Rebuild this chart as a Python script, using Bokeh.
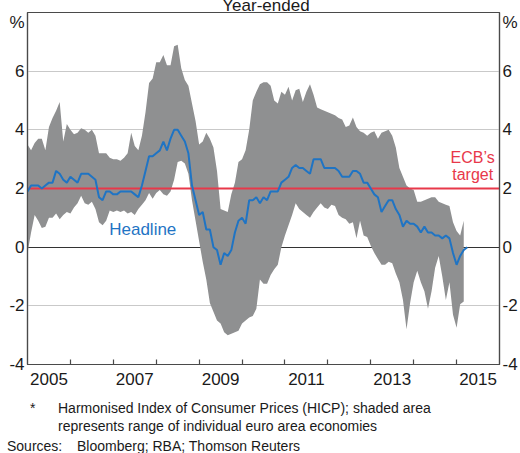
from bokeh.plotting import figure
from bokeh.models import FixedTicker, LinearAxis, Range1d, Label, Div
from bokeh.layouts import column
from bokeh.embed import file_html
from bokeh.resources import INLINE

# ---------------- data (monthly, from Jan 2005) ----------------
START_YEAR = 2005
headline = [
    1.9, 2.1, 2.1, 2.1, 2.0, 2.1, 2.2, 2.2, 2.6, 2.5, 2.3, 2.2,      # 2005
    2.4, 2.3, 2.2, 2.5, 2.5, 2.5, 2.4, 2.3, 1.7, 1.6, 1.9, 1.9,      # 2006
    1.8, 1.8, 1.9, 1.9, 1.9, 1.9, 1.8, 1.7, 2.1, 2.6, 3.1, 3.1,      # 2007
    3.2, 3.3, 3.6, 3.3, 3.7, 4.0, 4.0, 3.8, 3.6, 3.2, 2.1, 1.6,      # 2008
    1.1, 1.2, 0.6, 0.6, 0.0, -0.1, -0.6, -0.2, -0.3, -0.1, 0.5, 0.9, # 2009
    1.0, 0.8, 1.6, 1.6, 1.7, 1.5, 1.7, 1.6, 1.9, 1.9, 1.9, 2.2,      # 2010
    2.3, 2.4, 2.7, 2.8, 2.7, 2.7, 2.6, 2.5, 3.0, 3.0, 3.0, 2.7,      # 2011
    2.7, 2.7, 2.7, 2.6, 2.4, 2.4, 2.4, 2.6, 2.6, 2.5, 2.2, 2.2,      # 2012
    2.0, 1.8, 1.7, 1.2, 1.4, 1.6, 1.6, 1.3, 1.1, 0.7, 0.9, 0.8,      # 2013
    0.8, 0.7, 0.5, 0.7, 0.5, 0.5, 0.4, 0.4, 0.3, 0.4, 0.3, -0.2,     # 2014
    -0.6, -0.3, -0.1, 0.0,                                           # 2015
]
range_high = [
    3.5, 3.3, 3.55, 3.7, 3.7, 3.3, 4.1, 4.4, 4.65, 4.95, 3.6, 4.2,
    4.0, 3.85, 3.9, 4.05, 4.0, 3.9, 4.0, 3.8, 3.2, 3.2, 3.2, 3.05,
    3.0, 3.0, 2.95, 3.05, 3.2, 3.9, 3.45, 3.3, 3.8, 4.6, 5.6, 5.75,
    6.3, 6.3, 6.55, 6.2, 6.2, 6.85, 6.9, 6.1, 5.7, 5.5, 4.9, 4.3,
    3.5, 3.6, 3.9, 3.7, 3.4, 2.6, 1.3, 1.25, 1.2, 1.8, 2.2, 2.9,
    3.0, 3.3, 4.0, 5.0, 5.3, 5.55, 5.62, 5.62, 5.5, 5.0, 4.9, 5.3,
    5.2, 5.47, 5.0, 5.35, 5.4, 4.95, 5.3, 5.55, 5.2, 4.76, 4.7, 4.65,
    4.6, 4.55, 4.5, 4.4, 4.35, 4.1, 4.15, 4.42, 4.1, 3.95, 3.9, 3.8,
    3.9, 3.95, 3.7, 3.9, 3.95, 4.0, 3.8, 3.4, 2.7, 2.4, 2.1, 2.0,
    1.95, 1.55, 1.55, 1.6, 1.65, 1.7, 1.7, 1.55, 1.5, 1.45, 1.4, 0.85,
    0.55, 0.4, 0.9,
]
range_low = [
    -0.2, 0.5, 1.1, 0.9, 0.65, 0.7, 1.0, 1.0, 1.15, 0.95, 1.1, 1.2,
    1.15, 1.35, 1.5, 1.75, 1.5, 1.45, 1.55, 1.3, 0.85, 0.75, 0.9, 1.25,
    1.2, 1.25, 1.2, 1.25, 1.15, 1.2, 1.1, 1.3, 1.45, 1.6, 1.85, 1.65,
    1.85, 1.95, 1.8, 1.75, 1.9, 2.3, 2.9, 2.95, 2.85, 2.5, 1.6, 0.9,
    0.2, -0.5, -1.1, -1.9, -2.2, -2.5, -2.6, -2.9, -3.0, -2.95, -2.9, -2.85,
    -2.6, -2.5, -2.4, -2.35, -2.1, -1.1, -1.25, -1.25, -0.95, -0.75, -0.6, 0.0,
    0.4, 0.75, 1.1, 1.5, 1.3, 1.2, 1.1, 1.0, 1.2, 1.35, 1.5, 1.35,
    1.3, 1.45, 1.4, 1.1, 1.0, 0.95, 0.8, 0.85, 0.3, 0.9, 0.4, 0.35,
    0.05, -0.2, -0.4, -0.6, -0.6, -0.5, -0.55, -0.9, -1.2, -1.8, -2.8, -1.9,
    -1.2, -0.8, -1.2, -1.5, -2.1, -1.5, -0.7, -0.3, -1.0, -1.8, -1.2, -2.3,
    -2.75, -1.95, -1.85,
]
ECB_TARGET = 2.0
y_ticks = [-4, -2, 0, 2, 4, 6]
y_tick_labels = ["-4", "-2", "0", "2", "4", "6"]
y_grid = [-2, 2, 4, 6]
year_labels = ["2005", "2007", "2009", "2011", "2013", "2015"]
year_starts = list(range(2006, 2016))

x_head = [START_YEAR + i / 12 for i in range(len(headline))]
x_rng = [START_YEAR + i / 12 for i in range(len(range_high))]

# ---------------- style / layout ----------------
FONT = "Liberation Sans"
GREY_AREA = "#8f9091"
BLUE = "#1f74c4"
RED = "#e8384a"
AXIS = "#4a4a4a"
TXT = "#1a1a1a"

W, H = 520, 395
FL, FT, FW, FH = 27, 12, 475, 352      # frame in canvas px (canvas at page 0,0)
X0, X1, Y0, Y1 = 2005, 2016, -4, 8

def dx(px):
    return X0 + (px - FL) * (X1 - X0) / FW

def dy(py):
    return Y1 - (py - FT) * (Y1 - Y0) / FH

p = figure(width=W, height=H, x_range=Range1d(X0, X1), y_range=Range1d(Y0, Y1),
           output_backend="svg", toolbar_location=None,
           min_border_left=FL, min_border_right=W - FL - FW,
           min_border_top=FT, min_border_bottom=H - FT - FH)
p.outline_line_color = AXIS
p.outline_line_width = 1.2
p.background_fill_color = "white"
p.border_fill_color = "white"

pct_pos = dy(22)
yt = FixedTicker(ticks=y_ticks + [pct_pos])
ov = {t: s for t, s in zip(y_ticks, y_tick_labels)}
ov[pct_pos] = "%"

def style_y(ax, standoff):
    ax.ticker = yt
    ax.major_label_overrides = ov
    ax.major_tick_in = 0
    ax.major_tick_out = 0
    ax.minor_tick_in = 0
    ax.minor_tick_out = 0
    ax.axis_label_standoff = 0
    ax.axis_line_color = AXIS
    ax.axis_line_width = 1.2
    ax.major_label_text_font = FONT
    ax.major_label_text_font_size = "17px"
    ax.major_label_text_color = TXT
    ax.major_label_standoff = standoff

style_y(p.yaxis[0], 3)
ra = LinearAxis()
style_y(ra, 3)
p.add_layout(ra, "right")

xa = p.xaxis[0]
mid = [int(y) + 0.5 for y in year_labels]
xa.ticker = FixedTicker(ticks=mid, minor_ticks=year_starts)
xa.major_label_overrides = {m: lab for m, lab in zip(mid, year_labels)}
xa.major_tick_in = 0
xa.major_tick_out = 0
xa.minor_tick_in = 5
xa.minor_tick_out = 0
xa.axis_label_standoff = 0
xa.minor_tick_line_color = AXIS
xa.minor_tick_line_width = 1.2
xa.axis_line_color = AXIS
xa.axis_line_width = 1.2
xa.major_label_text_font = FONT
xa.major_label_text_font_size = "17px"
xa.major_label_text_color = TXT
xa.major_label_standoff = 8

p.xgrid.visible = False
p.ygrid.ticker = FixedTicker(ticks=y_grid)
p.ygrid.grid_line_color = "#c9c9c9"
p.ygrid.grid_line_width = 1

p.hspan(y=[0], line_color="#333333", line_width=1)
p.varea(x=x_rng, y1=range_low, y2=range_high, fill_color=GREY_AREA, fill_alpha=1)
p.hspan(y=[ECB_TARGET], line_color=RED, line_width=2)
p.line(x_head, headline, line_color=BLUE, line_width=2)

def lab(text, px, py, color, size):
    p.add_layout(Label(x=dx(px), y=dy(py), text=text, text_color=color,
                       text_font=FONT, text_font_size=size,
                       text_align="center", text_baseline="middle"))

lab("Headline", 143, 229, BLUE, "17px")
lab("ECB\u2019s", 475, 157, RED, "16px")
lab("target", 475, 174, RED, "16px")

# ---------------- notes (below the chart) ----------------
def line_html(text, left, top, size=14):
    return (f'<div style="position:absolute;left:{left}px;top:{top}px;'
            f'font-size:{size}px;line-height:15px;white-space:nowrap;">{text}</div>')

notes_html = (
    '<div style="position:relative;width:520px;height:56px;'
    f'font-family:\'{FONT}\';color:{TXT};">'
    + f'<div style="position:absolute;left:1px;top:{-H - 9}px;width:520px;text-align:center;'
      f'font-size:17px;line-height:20px;white-space:nowrap;">Year-ended</div>'
    + line_html("*", 25, 1)
    + line_html("Harmonised Index of Consumer Prices (HICP); shaded area", 53, 1)
    + line_html("represents range of individual euro area economies", 53, 19)
    + line_html("Sources:", 2, 39)
    + line_html("Bloomberg; RBA; Thomson Reuters", 72, 39)
    + '</div>'
)
notes = Div(text=notes_html, width=W, height=56, styles={"overflow": "visible"})

layout = column(p, notes, spacing=0)
open("out.html", "w").write(file_html(layout, INLINE))
